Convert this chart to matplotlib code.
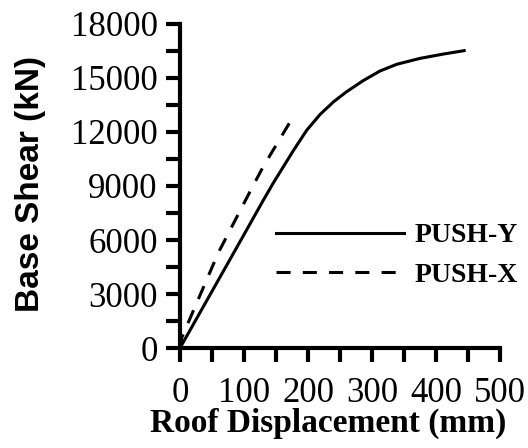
import matplotlib
matplotlib.use("Agg")
import matplotlib.pyplot as plt
from matplotlib import font_manager
from matplotlib.ticker import MultipleLocator

# pushover curves (roof displacement in mm, base shear in kN)
push_y_disp = [0, 50, 100, 130, 146, 161.5, 177, 198, 219, 240, 260, 286.5, 312.5, 338.5, 375, 411.5, 444]
push_y_shear = [0, 3150, 6300, 8200, 9180, 10070, 10960, 12100, 12980, 13680, 14230, 14860, 15390,
                15760, 16090, 16330, 16520]

push_x_disp = [0, 3, 60, 112, 130, 174.5]
push_x_shear = [0, 600, 5300, 8870, 10074, 12705]

x_ticks = [0, 100, 200, 300, 400, 500]
y_ticks = [0, 3000, 6000, 9000, 12000, 15000, 18000]

names = {f.name for f in font_manager.fontManager.ttflist}
has_narrow = "Liberation Sans Narrow" in names
sans_label = "Liberation Sans Narrow" if has_narrow else "Liberation Sans"
serif = "Liberation Serif"

plt.rcParams["font.family"] = serif

fig = plt.figure(figsize=(5.28, 4.48), dpi=100)
ax = fig.add_axes([180 / 528, 1 - 348 / 448, 320 / 528, 324 / 448])

lw = 2.2
ax.plot(push_y_disp, push_y_shear, color="black", lw=lw, label="PUSH-Y")
ax.plot(push_x_disp, push_x_shear, color="black", lw=lw, ls=(0, (4.6, 4)), label="PUSH-X")

ax.set_xlim(0, 500)
ax.set_ylim(0, 18000)
ax.set_xticks(x_ticks)
ax.set_yticks(y_ticks)
ax.xaxis.set_minor_locator(MultipleLocator(50))
ax.yaxis.set_minor_locator(MultipleLocator(1500))

for side in ("top", "right"):
    ax.spines[side].set_visible(False)
for side in ("left", "bottom"):
    ax.spines[side].set_linewidth(3)

ax.tick_params(which="both", direction="out", length=10, width=3, color="black")
ax.tick_params(axis="y", which="major", labelsize=25, pad=6)
ax.tick_params(axis="x", which="major", labelsize=25, pad=11)

ax.set_xlabel("Roof Displacement (mm)", fontsize=24, fontweight="bold", family=serif)
ax.xaxis.set_label_coords(0.4625, -0.185)
ax.set_ylabel("Base Shear (kN)", fontsize=28 if has_narrow else 24, fontweight="bold", family=sans_label)
ax.yaxis.set_label_coords(-0.42, 0.506)

ax.legend(loc="upper left", bbox_to_anchor=((276 - 180) / 320, (348 - 223) / 324),
          frameon=False, handlelength=4.6, handletextpad=0.4, labelspacing=0.5,
          borderaxespad=0, borderpad=0,
          prop={"family": serif, "weight": "bold", "size": 20})

fig.savefig("out.png", dpi=100)
